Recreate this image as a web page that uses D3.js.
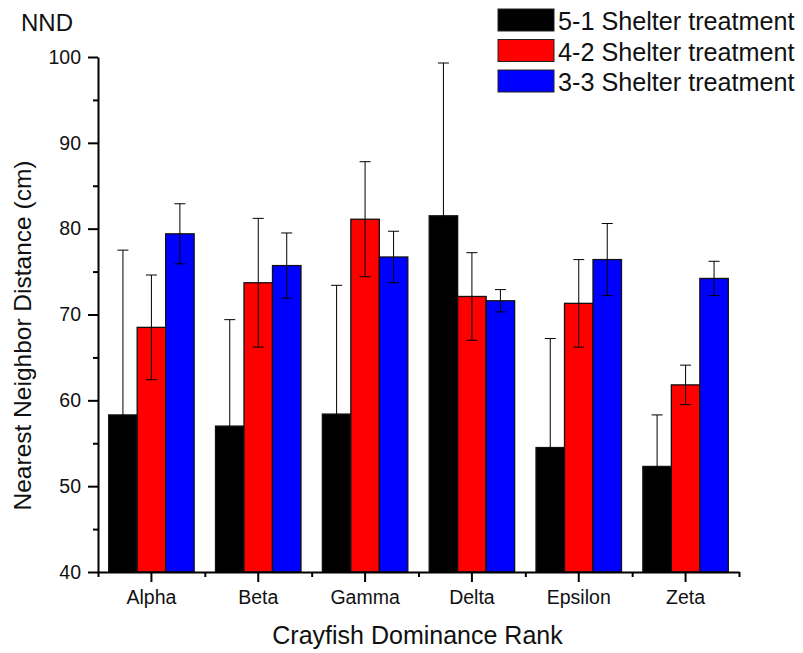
<!DOCTYPE html>
<html>
<head>
<meta charset="utf-8">
<script src="https://cdn.jsdelivr.net/npm/d3@7"></script>
<style>
  body { margin: 0; background: #fff; }
  svg { display: block; font-family: 'Liberation Sans', Arial, sans-serif; }
</style>
</head>
<body>
<div id="chart"></div>
<script>
const categories = ['Alpha', 'Beta', 'Gamma', 'Delta', 'Epsilon', 'Zeta'];
const seriesNames = ['5-1 Shelter treatment', '4-2 Shelter treatment', '3-3 Shelter treatment'];
const nnd51 = [58.3, 57.0, 58.4, 81.5, 54.5, 52.3];
const err51 = [19.2, 12.4, 15.0, 17.8, 12.7, 6.0];
const nnd42 = [68.5, 73.7, 81.1, 72.1, 71.3, 61.8];
const err42 = [6.1, 7.5, 6.7, 5.1, 5.1, 2.3];
const nnd33 = [79.4, 75.7, 76.7, 71.6, 76.4, 74.2];
const err33 = [3.5, 3.8, 3.0, 1.3, 4.2, 2.0];
const yMajor = [40, 50, 60, 70, 80, 90, 100];
const yMinor = [45, 55, 65, 75, 85, 95];

const colors = ['#000000', '#ff0000', '#0000ff'];
const means = [nnd51, nnd42, nnd33];
const errs = [err51, err42, err33];

const width = 803, height = 653;
const mLeft = 98, mRight = 739, mTop = 57, mBottom = 572;

const svg = d3.select('#chart').append('svg')
  .attr('width', width)
  .attr('height', height);

svg.append('clipPath').attr('id', 'plotclip')
  .append('rect')
  .attr('x', mLeft).attr('y', 0)
  .attr('width', mRight - mLeft).attr('height', mBottom);

const x0 = d3.scaleBand().domain(categories).range([mLeft, mRight])
  .paddingInner(0.2).paddingOuter(0.1);
const x1 = d3.scaleBand().domain(d3.range(seriesNames.length)).range([0, x0.bandwidth()]);
const xi = d3.scaleLinear().domain([0, categories.length]).range([mLeft, mRight]);
const y = d3.scaleLinear().domain([40, 100]).range([mBottom, mTop]);

// rows of data for drawing
const rows = [];
categories.forEach((c, i) => {
  seriesNames.forEach((s, j) => {
    rows.push({cat: c, s: j, v: means[j][i], e: errs[j][i]});
  });
});

// bars
svg.append('g').selectAll('rect')
  .data(rows)
  .join('rect')
  .attr('x', d => x0(d.cat) + x1(d.s))
  .attr('y', d => y(d.v))
  .attr('width', x1.bandwidth())
  .attr('height', d => y(40) - y(d.v))
  .attr('fill', d => colors[d.s])
  .attr('stroke', '#111')
  .attr('stroke-width', 1.3);

// error bars
const eb = svg.append('g').attr('clip-path', 'url(#plotclip)')
  .attr('stroke', '#000').attr('stroke-width', 1);
const cx = d => x0(d.cat) + x1(d.s) + x1.bandwidth() / 2;
eb.selectAll('line.v').data(rows).join('line').attr('class', 'v')
  .attr('x1', cx).attr('x2', cx)
  .attr('y1', d => y(d.v - d.e)).attr('y2', d => y(d.v + d.e));
eb.selectAll('line.t').data(rows).join('line').attr('class', 't')
  .attr('x1', d => cx(d) - 5.5).attr('x2', d => cx(d) + 5.5)
  .attr('y1', d => y(d.v + d.e)).attr('y2', d => y(d.v + d.e));
eb.selectAll('line.b').data(rows).join('line').attr('class', 'b')
  .attr('x1', d => cx(d) - 5.5).attr('x2', d => cx(d) + 5.5)
  .attr('y1', d => y(d.v - d.e)).attr('y2', d => y(d.v - d.e));

// y axis
const yAxis = svg.append('g').attr('transform', `translate(${mLeft},0)`)
  .call(d3.axisLeft(y).tickValues(yMajor).tickSize(10).tickSizeOuter(0).tickPadding(7));
svg.append('g').attr('transform', `translate(${mLeft},0)`)
  .call(d3.axisLeft(y).tickValues(yMinor).tickSize(5).tickFormat(''))
  .select('.domain').remove();

// x axis
const xAxis = svg.append('g').attr('transform', `translate(0,${mBottom})`)
  .call(d3.axisBottom(x0).tickSize(10).tickSizeOuter(0).tickPadding(8));
svg.append('g').attr('transform', `translate(0,${mBottom})`)
  .call(d3.axisBottom(xi).tickValues(d3.range(categories.length + 1)).tickSize(5).tickFormat(''))
  .select('.domain').remove();

svg.selectAll('.domain').attr('stroke', '#000').attr('stroke-width', 2);
svg.selectAll('.tick line').attr('stroke', '#000').attr('stroke-width', 2);
yAxis.selectAll('text').attr('font-size', 19.5).attr('fill', '#111')
  .attr('font-family', "'Liberation Sans', Arial, sans-serif");
xAxis.selectAll('text').attr('font-size', 19.5).attr('fill', '#111')
  .attr('font-family', "'Liberation Sans', Arial, sans-serif");

// titles
svg.append('text')
  .attr('x', (mLeft + mRight) / 2 - 1).attr('y', 644)
  .attr('text-anchor', 'middle')
  .attr('font-size', 25).attr('fill', '#111')
  .text('Crayfish Dominance Rank');

svg.append('text')
  .attr('transform', `translate(31,${(mTop + mBottom) / 2 + 21}) rotate(-90)`)
  .attr('text-anchor', 'middle')
  .attr('font-size', 24.5).attr('fill', '#111')
  .text('Nearest Neighbor Distance (cm)');

svg.append('text')
  .attr('x', 21).attr('y', 31)
  .attr('font-size', 24).attr('fill', '#111')
  .text('NND');

// legend
const legend = svg.append('g').selectAll('g')
  .data(seriesNames)
  .join('g')
  .attr('transform', (d, i) => `translate(498,${9 + i * 30.5})`);
legend.append('rect')
  .attr('width', 56).attr('height', 22)
  .attr('fill', (d, i) => colors[i])
  .attr('stroke', '#222').attr('stroke-width', 1);
legend.append('text')
  .attr('x', 60).attr('y', 21)
  .attr('font-size', 25.2).attr('fill', '#111')
  .text(d => d);
</script>
</body>
</html>
